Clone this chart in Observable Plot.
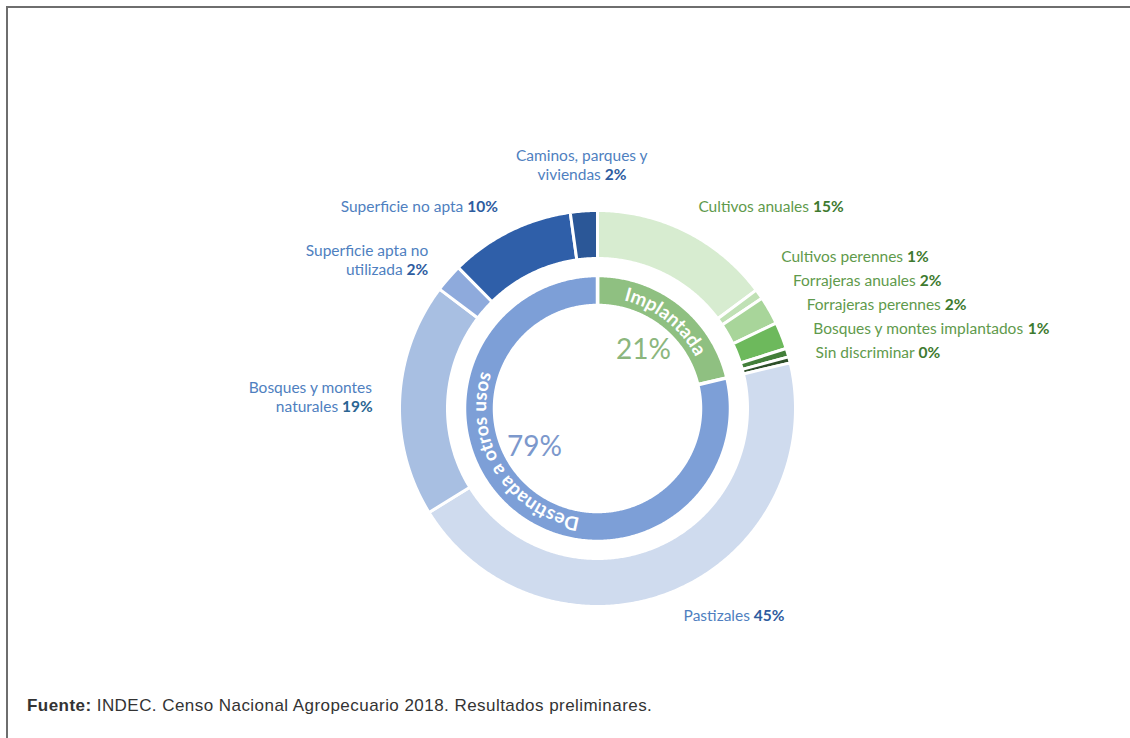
<!DOCTYPE html>
<html><head><meta charset="utf-8">
<script src="https://cdn.jsdelivr.net/npm/d3@7"></script>
<script src="https://cdn.jsdelivr.net/npm/@observablehq/plot@0.6"></script>
<style>
html,body{margin:0;padding:0;background:#fff;}
#wrap{position:relative;width:1130px;height:738px;overflow:hidden;background:#fff;}
#frame{position:absolute;left:6px;top:6px;width:1200px;height:800px;border-top:2px solid #6e6e6e;border-left:2px solid #6e6e6e;}
#chart{position:absolute;left:0;top:0;}
#caption{position:absolute;left:27px;top:696px;font-family:"Liberation Sans",Arial,sans-serif;font-size:17px;letter-spacing:0.45px;color:#333;white-space:nowrap;}
</style></head><body>
<div id="wrap"><div id="frame"></div><div id="chart"></div>
<div id="caption"><b>Fuente:</b> INDEC. Censo Nacional Agropecuario 2018. Resultados preliminares.</div></div>
<script>
// ---- data ----
const categories = ["Cultivos anuales","Cultivos perennes","Forrajeras anuales","Forrajeras perennes","Bosques y montes implantados","Sin discriminar","Pastizales","Bosques y montes naturales","Superficie apta no utilizada","Superficie no apta","Caminos, parques y viviendas"];
const values = [14.8, 0.8, 2.3, 2.2, 0.7, 0.5, 44.9, 19.1, 2.3, 10.2, 2.2];
const pctText = ["15%","1%","2%","2%","1%","0%","45%","19%","2%","10%","2%"];
const labelText = ["Cultivos anuales","Cultivos perennes","Forrajeras anuales","Forrajeras perennes","Bosques y montes implantados","Sin discriminar","Pastizales","Bosques y montes\nnaturales","Superficie apta no\nutilizada","Superficie no apta","Caminos, parques y\nviviendas"];
const groupOf = [0,0,0,0,0,0,1,1,1,1,1];
const groupNames = ["Implantada","Destinada a otros usos"];
const groupPct = ["21%","79%"];

// ---- styles ----
const outerColors = ["#d7ecd0","#c0e1b5","#a8d59a","#6db95c","#437f3a","#2e4f2a","#cfdbee","#a8bfe2","#8eaadc","#2f5fa9","#2b5797"];
const groupColors = ["#8fc081","#7d9fd7"];
const groupPctColors = ["#8bb67d","#7c98cc"];
const nameColors = ["#5f9a4c","#5f9a4c","#5f9a4c","#5f9a4c","#5f9a4c","#5f9a4c","#4f7fc0","#4f7fc0","#4f7fc0","#4f7fc0","#4f7fc0"];
const pctColors = ["#3e7a2f","#3e7a2f","#3e7a2f","#3e7a2f","#3e7a2f","#3e7a2f","#2e5c9f","#2a6592","#2e5c9f","#2e5c9f","#2e5c9f"];
const curveShift = [0, 0.35];   // radians, rotation of the curved ring titles
const R = {innerIn:103, innerOut:133, outerIn:150, outerOut:198, text:111, label:225, pct:74};
const LABEL_SIZE = 15.5, LH = 19;
const W = 1130, H = 690, CX = 597, CY = 408;

// ---- layout ----
const pie = d3.pie().sort(null).value(d => d);
const outerPie = pie(values);
const groupValues = groupNames.map((g, gi) => d3.sum(values.filter((v, i) => groupOf[i] === gi)));
const innerPie = pie(groupValues);

function arcPolygon(a0, a1, r0, r1) {
  const n = Math.max(2, Math.ceil((a1 - a0) / (Math.PI / 360)));
  const pts = [];
  for (let i = 0; i <= n; i++) { const a = a0 + (a1 - a0) * i / n; pts.push({x: r1 * Math.sin(a), y: r1 * Math.cos(a)}); }
  for (let i = n; i >= 0; i--) { const a = a0 + (a1 - a0) * i / n; pts.push({x: r0 * Math.sin(a), y: r0 * Math.cos(a)}); }
  pts.push(pts[0]);
  return pts;
}

const ctx = document.createElement("canvas").getContext("2d");
const measure = (s, bold) => { ctx.font = `${bold ? "bold " : ""}${LABEL_SIZE}px Lato`; return ctx.measureText(s).width; };

// label blocks
const blocks = outerPie.map((p, i) => {
  const mid = (p.startAngle + p.endAngle) / 2;
  const ax = R.label * Math.sin(mid), ay = R.label * Math.cos(mid);
  const lines = labelText[i].split("\n");
  const n = lines.length;
  let side = Math.sin(mid) > 0 ? "start" : "end";
  let cy = ay;
  if (Math.abs(Math.sin(mid)) < 0.2 && Math.cos(mid) > 0) { side = "middle"; cy = ay + n * LH / 2; }
  return {i, ax, cy, lines, n, side};
});
// avoid overlaps on the right side (stack from the bottom up)
const right = blocks.filter(b => b.side === "start").sort((a, b) => b.cy - a.cy);
for (let k = right.length - 2; k >= 0; k--) {
  const lo = right[k + 1], hi = right[k];
  const minGap = (lo.n * LH) / 2 + (hi.n * LH) / 2 + 5;
  if (hi.cy - lo.cy < minGap) hi.cy = lo.cy + minGap;
}
const nameItems = [], pctItems = [];
blocks.forEach(b => {
  b.lines.forEach((line, j) => {
    const y = b.cy - (j - (b.n - 1) / 2) * LH;
    const last = j === b.n - 1;
    const wName = last ? measure(line + " ", false) : measure(line, false);
    const total = wName + (last ? measure(pctText[b.i], true) : 0);
    const sx = b.side === "start" ? b.ax : b.side === "end" ? b.ax - total : b.ax - total / 2;
    nameItems.push({x: sx, y, text: line, color: nameColors[b.i]});
    if (last) pctItems.push({x: sx + wName, y, text: pctText[b.i], color: pctColors[b.i]});
  });
});

const centerPct = innerPie.map((p, i) => {
  const mid = (p.startAngle + p.endAngle) / 2 + curveShift[i];
  return {x: R.pct * Math.sin(mid), y: R.pct * Math.cos(mid), text: groupPct[i], color: groupPctColors[i]};
});

function curvedText(index, scales) {
  const g = d3.create("svg:g");
  const cx = scales.x(0), cy = scales.y(0);
  const r = Math.abs(scales.x(R.text) - scales.x(0));
  innerPie.forEach((p, i) => {
    const mid = (p.startAngle + p.endAngle) / 2 + curveShift[i];
    const a0 = mid - 1.45, a1 = mid + 1.45;
    const P = a => [cx + r * Math.sin(a), cy - r * Math.cos(a)];
    const [x0, y0] = P(a0), [x1, y1] = P(a1);
    const id = "tp" + i;
    g.append("path").attr("id", id).attr("d", `M${x0},${y0}A${r},${r} 0 0 1 ${x1},${y1}`).attr("fill", "none");
    g.append("text").attr("font-family", "Lato").attr("font-weight", "bold").attr("font-size", 19).attr("fill", "white")
      .append("textPath").attr("href", "#" + id).attr("startOffset", "50%").attr("text-anchor", "middle").text(groupNames[i]);
  });
  return g.node();
}

const marks = [
  ...outerPie.map((p, i) => Plot.line(arcPolygon(p.startAngle, p.endAngle, R.outerIn, R.outerOut), {x: "x", y: "y", fill: outerColors[i], stroke: "white", strokeWidth: 3, curve: "linear"})),
  ...innerPie.map((p, i) => Plot.line(arcPolygon(p.startAngle, p.endAngle, R.innerIn, R.innerOut), {x: "x", y: "y", fill: groupColors[i], stroke: "white", strokeWidth: 3.5, curve: "linear"})),
  curvedText,
  Plot.text(centerPct, {x: "x", y: "y", text: "text", fill: "color", fontFamily: "Lato", fontSize: 28, textAnchor: "middle"}),
  Plot.text(nameItems, {x: "x", y: "y", text: "text", fill: "color", fontFamily: "Lato", fontSize: LABEL_SIZE, textAnchor: "start", lineAnchor: "middle"}),
  Plot.text(pctItems, {x: "x", y: "y", text: "text", fill: "color", fontFamily: "Lato", fontWeight: "bold", fontSize: LABEL_SIZE, textAnchor: "start", lineAnchor: "middle"})
];

const chart = Plot.plot({
  width: W, height: H, margin: 0,
  x: {domain: [-CX, W - CX], range: [0, W], axis: null},
  y: {domain: [CY - H, CY], range: [H, 0], axis: null},
  color: {type: "identity"},
  style: {background: "transparent"},
  marks
});
document.getElementById("chart").appendChild(chart);
</script></body></html>
